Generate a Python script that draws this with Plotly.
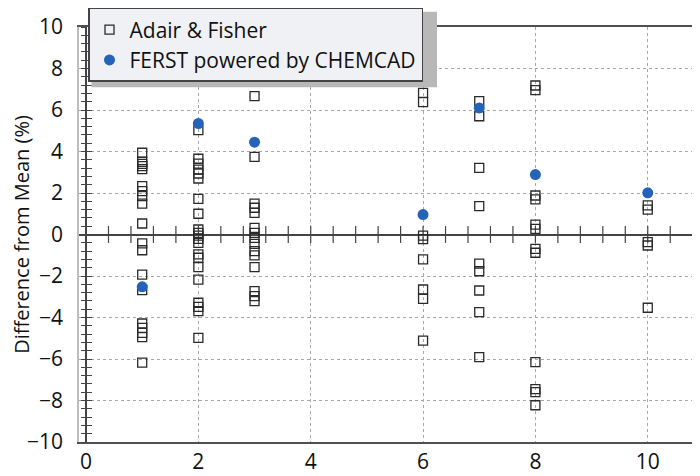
import plotly.graph_objects as go

# Adair & Fisher data (x = sample, y = difference from mean %)
af_y1 = [3.94, 3.5, 3.4, 3.3, 3.15, 2.33, 2.09, 1.85, 1.49, 0.53, -0.43, -0.76,
         -1.93, -2.68, -4.29, -4.5, -4.74, -4.95, -6.17]
af_x1 = [1]*len(af_y1)
af_y2 = [5.03, 3.65, 3.42, 3.13, 2.94, 2.70, 1.72, 1.0, 0.24, 0.08, -0.05, -0.21,
         -0.4, -0.96, -1.12, -1.57, -2.17, -3.29, -3.49, -3.69, -4.98]
af_x2 = [2]*len(af_y2)
af_y3 = [6.67, 3.74, 1.49, 1.29, 1.04, 0.32, 0.08, -0.16, -0.45, -0.8, -1.01,
         -1.57, -2.73, -2.97, -3.21]
af_x3 = [3]*len(af_y3)
af_y6 = [6.83, 6.38, -0.05, -0.22, -1.2, -2.65, -3.1, -5.11]
af_x6 = [6]*len(af_y6)
af_y7 = [6.43, 5.7, 3.21, 1.37, -1.4, -1.77, -2.7, -3.74, -5.91]
af_x7 = [7]*len(af_y7)
af_y8 = [7.18, 6.96, 1.88, 1.69, 0.48, 0.27, -0.69, -0.88, -6.15, -7.45, -7.6, -8.23]
af_x8 = [8]*len(af_y8)
af_y10 = [1.4, 1.2, -0.37, -0.53, -3.53]
af_x10 = [10]*len(af_y10)

ferst_x = [1, 2, 3, 6, 7, 8, 10]
ferst_y = [-2.52, 5.35, 4.45, 0.96, 6.1, 2.89, 2.01]

af_x = af_x1 + af_x2 + af_x3 + af_x6 + af_x7 + af_x8 + af_x10
af_y = af_y1 + af_y2 + af_y3 + af_y6 + af_y7 + af_y8 + af_y10

x_ticks = [0, 2, 4, 6, 8, 10]
y_ticks = [-10, -8, -6, -4, -2, 0, 2, 4, 6, 8, 10]
# minor tick marks on the x axis line through y = 0
x_minor_ticks = [0.4, 0.8, 1.2, 1.6, 2.0, 2.4, 2.8, 3.2, 3.6, 4.0, 4.4, 4.8,
                 5.2, 5.6, 6.0, 6.4, 6.8, 7.2, 7.6, 8.0, 8.4, 8.8, 9.2, 9.6,
                 10.0, 10.4, 10.8]

FONT = "Open Sans"
AXC = "#444444"
GRIDC = "#a8a8a8"

x_range = [-0.125, 10.93]
y_range = [-10, 10]
ypos = (0 - x_range[0]) / (x_range[1] - x_range[0])

fig = go.Figure()
# crossing tick marks along the horizontal zero axis
fig.add_trace(go.Scatter(
    x=x_minor_ticks, y=[0]*len(x_minor_ticks), mode="markers",
    marker=dict(symbol="line-ns", size=12, color=AXC, line=dict(width=1.2, color=AXC)),
    showlegend=False, hoverinfo="skip", cliponaxis=False,
))
fig.add_trace(go.Scatter(
    x=af_x, y=af_y, mode="markers", name="Adair & Fisher",
    legendgroup="a",
    marker=dict(symbol="square-open", size=9, color="#2a2a2a", line=dict(width=1.3)),
))
fig.add_trace(go.Scatter(
    x=ferst_x, y=ferst_y, mode="markers", name="FERST powered by CHEMCAD",
    legendgroup="b",
    marker=dict(symbol="circle", size=11, color="#2563b8"),
))
# dummy traces for the crossing tick axes on the vertical zero axis
for xa, ya in [("x", "y2"), ("x", "y3")]:
    fig.add_trace(go.Scatter(x=[None], y=[None], xaxis=xa, yaxis=ya,
                             showlegend=False, hoverinfo="skip"))

tickfont = dict(family=FONT, size=21, color="#111111")

cross_y = dict(showgrid=False, zeroline=False, showticklabels=False, showline=False,
               tick0=0, dtick=0.4, tickwidth=1.2, tickcolor=AXC)

fig.update_layout(
    width=692, height=468,
    margin=dict(l=71, r=0, t=19, b=34, autoexpand=False),
    paper_bgcolor="white", plot_bgcolor="rgba(0,0,0,0)",
    font=dict(family=FONT, color="#111111"),
    xaxis=dict(
        range=x_range, tickvals=x_ticks, ticks="", tickfont=tickfont,
        showgrid=True, gridcolor=GRIDC, griddash="dot", gridwidth=1,
        zeroline=True, zerolinecolor=AXC, zerolinewidth=1.5,
        showline=True, linecolor="#505050", linewidth=2, mirror=True,
        automargin=False,
    ),
    yaxis=dict(
        range=y_range, tickvals=y_ticks, ticks="", tickfont=tickfont,
        showgrid=True, gridcolor=GRIDC, griddash="dot", gridwidth=1,
        zeroline=True, zerolinecolor=AXC, zerolinewidth=1.5,
        showline=True, linecolor="#bdbdbd", linewidth=1.5, mirror=False,
        automargin=False, ticklabelstandoff=10,
        title=dict(text="Difference from Mean (%)", font=dict(family=FONT, size=20, color="#111111"), standoff=4),
    ),
    yaxis2=dict(range=y_range, overlaying="y", anchor="free", position=ypos, side="left",
                ticks="outside", ticklen=5, **cross_y),
    yaxis3=dict(range=y_range, overlaying="y", anchor="free", position=ypos, side="left",
                ticks="inside", ticklen=5, **cross_y),
    legend=dict(
        x=0.0145, y=1.0458, xanchor="left", yanchor="top",
        bgcolor="#f0f1f4", bordercolor="#444444", borderwidth=1.5,
        font=dict(family=FONT, size=21, color="#111111"),
        traceorder="grouped", tracegroupgap=0, itemwidth=30,
        entrywidth=315, entrywidthmode="pixels",
    ),
    shapes=[dict(type="rect", xref="paper", yref="paper",
                 x0=0.02, x1=0.5765, y0=0.855, y1=1.037,
                 fillcolor="#b8b8b8", line=dict(width=0), layer="above")],
    showlegend=True,
)

fig.write_html("out.html")
